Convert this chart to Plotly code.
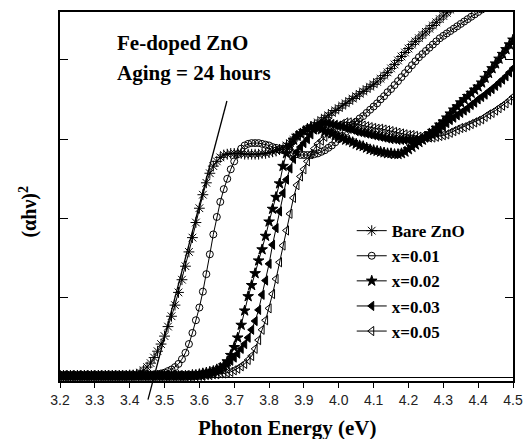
import plotly.graph_objects as go

# Photon energy grid (eV), 0.01 eV steps from 3.20 to 4.50
energy = [round(3.20 + 0.01 * i, 2) for i in range(131)]

names = ["Bare ZnO", "x=0.01", "x=0.02", "x=0.03", "x=0.05"]

bare_zno = [
    0.02, 0.02, 0.02, 0.02, 0.02, 0.02, 0.02, 0.02, 0.02, 0.02,
    0.02, 0.02, 0.02, 0.02, 0.02, 0.02, 0.02, 0.02, 0.02, 0.02,
    0.03, 0.03, 0.04, 0.06, 0.09, 0.13, 0.18, 0.25, 0.33, 0.42,
    0.52, 0.64, 0.77, 0.91, 1.07, 1.23, 1.40, 1.58, 1.76, 1.95,
    2.13, 2.30, 2.45, 2.57, 2.66, 2.72, 2.77, 2.80, 2.81, 2.82,
    2.82, 2.82, 2.82, 2.81, 2.81, 2.81, 2.81, 2.81, 2.82, 2.82,
    2.83, 2.84, 2.85, 2.87, 2.89, 2.92, 2.95, 2.99, 3.03, 3.06,
    3.09, 3.12, 3.15, 3.18, 3.21, 3.24, 3.27, 3.30, 3.33, 3.36,
    3.39, 3.42, 3.45, 3.48, 3.51, 3.54, 3.57, 3.60, 3.63, 3.66,
    3.69, 3.72, 3.76, 3.80, 3.84, 3.89, 3.94, 3.99, 4.04, 4.09,
    4.14, 4.19, 4.23, 4.27, 4.31, 4.35, 4.39, 4.43, 4.47, 4.51,
    4.55, 4.59, 4.63, 4.67,
]

x001 = [
    0.02, 0.02, 0.02, 0.02, 0.02, 0.02, 0.02, 0.02, 0.02, 0.02,
    0.02, 0.02, 0.02, 0.02, 0.02, 0.02, 0.02, 0.02, 0.02, 0.02,
    0.02, 0.02, 0.02, 0.02, 0.02, 0.02, 0.03, 0.03, 0.04, 0.05,
    0.06, 0.08, 0.10, 0.13, 0.17, 0.23, 0.31, 0.42, 0.56, 0.72,
    0.88, 1.08, 1.30, 1.55, 1.80, 2.02, 2.21, 2.37, 2.50, 2.62,
    2.72, 2.81, 2.88, 2.92, 2.94, 2.95, 2.95, 2.95, 2.94, 2.93,
    2.92, 2.90, 2.89, 2.87, 2.86, 2.84, 2.83, 2.82, 2.81, 2.80,
    2.80, 2.80, 2.80, 2.81, 2.82, 2.84, 2.86, 2.89, 2.92, 2.96,
    3.00, 3.04, 3.09, 3.14, 3.18, 3.22, 3.26, 3.29, 3.33, 3.37,
    3.41, 3.45, 3.50, 3.54, 3.59, 3.63, 3.68, 3.73, 3.78, 3.83,
    3.88, 3.93, 3.98, 4.03, 4.07, 4.11, 4.15, 4.19, 4.23, 4.27,
    4.30, 4.33, 4.36, 4.39, 4.42, 4.45, 4.48, 4.51, 4.54, 4.57,
    4.60, 4.63,
]

x002 = [
    0.02, 0.02, 0.02, 0.02, 0.02, 0.02, 0.02, 0.02, 0.02, 0.02,
    0.02, 0.02, 0.02, 0.02, 0.02, 0.02, 0.02, 0.02, 0.02, 0.02,
    0.02, 0.02, 0.02, 0.02, 0.02, 0.02, 0.02, 0.02, 0.02, 0.02,
    0.02, 0.02, 0.02, 0.02, 0.02, 0.02, 0.02, 0.02, 0.03, 0.03,
    0.04, 0.05, 0.06, 0.07, 0.08, 0.10, 0.12, 0.15, 0.20, 0.28,
    0.38, 0.50, 0.66, 0.84, 1.02, 1.16, 1.31, 1.47, 1.61, 1.78,
    1.96, 2.12, 2.27, 2.44, 2.66, 2.82, 2.92, 2.99, 3.04, 3.07,
    3.10, 3.13, 3.15, 3.15, 3.14, 3.12, 3.10, 3.09, 3.07, 3.05,
    3.03, 3.01, 2.99, 2.98, 2.96, 2.94, 2.92, 2.91, 2.89, 2.87,
    2.86, 2.85, 2.84, 2.83, 2.82, 2.82, 2.81, 2.81, 2.82, 2.84,
    2.87, 2.90, 2.93, 2.96, 2.99, 3.03, 3.07, 3.10, 3.14, 3.18,
    3.22, 3.27, 3.32, 3.37, 3.41, 3.46, 3.50, 3.54, 3.58, 3.62,
    3.66, 3.71, 3.77, 3.83, 3.89, 3.95, 4.01, 4.07, 4.13, 4.19,
    4.25,
]

x003 = [
    0.02, 0.02, 0.02, 0.02, 0.02, 0.02, 0.02, 0.02, 0.02, 0.02,
    0.02, 0.02, 0.02, 0.02, 0.02, 0.02, 0.02, 0.02, 0.02, 0.02,
    0.02, 0.02, 0.02, 0.02, 0.02, 0.02, 0.02, 0.02, 0.02, 0.02,
    0.02, 0.02, 0.02, 0.02, 0.02, 0.02, 0.02, 0.02, 0.02, 0.02,
    0.03, 0.03, 0.04, 0.05, 0.06, 0.08, 0.10, 0.13, 0.17, 0.21,
    0.25, 0.30, 0.36, 0.42, 0.50, 0.60, 0.71, 0.85, 1.04, 1.22,
    1.43, 1.67, 1.88, 2.09, 2.32, 2.49, 2.63, 2.75, 2.84, 2.90,
    2.95, 3.00, 3.06, 3.12, 3.17, 3.19, 3.20, 3.20, 3.19, 3.18,
    3.17, 3.16, 3.14, 3.13, 3.12, 3.10, 3.09, 3.08, 3.07, 3.06,
    3.05, 3.04, 3.03, 3.02, 3.01, 3.00, 3.00, 2.99, 2.99, 2.99,
    2.99, 2.99, 2.99, 2.99, 3.00, 3.02, 3.04, 3.06, 3.08, 3.12,
    3.16, 3.20, 3.24, 3.27, 3.30, 3.33, 3.36, 3.39, 3.43, 3.46,
    3.50, 3.53, 3.56, 3.60, 3.63, 3.67, 3.71, 3.75, 3.79, 3.84,
    3.89,
]

x005 = [
    0.02, 0.02, 0.02, 0.02, 0.02, 0.02, 0.02, 0.02, 0.02, 0.02,
    0.02, 0.02, 0.02, 0.02, 0.02, 0.02, 0.02, 0.02, 0.02, 0.02,
    0.02, 0.02, 0.02, 0.02, 0.02, 0.02, 0.02, 0.02, 0.02, 0.02,
    0.02, 0.02, 0.02, 0.02, 0.02, 0.02, 0.02, 0.02, 0.02, 0.02,
    0.02, 0.02, 0.03, 0.03, 0.04, 0.04, 0.05, 0.05, 0.06, 0.07,
    0.09, 0.11, 0.14, 0.17, 0.22, 0.27, 0.36, 0.47, 0.60, 0.72,
    0.87, 1.05, 1.24, 1.45, 1.66, 1.85, 2.06, 2.26, 2.42, 2.53,
    2.62, 2.72, 2.81, 2.88, 2.94, 2.98, 3.03, 3.07, 3.10, 3.13,
    3.16, 3.19, 3.21, 3.21, 3.20, 3.19, 3.18, 3.17, 3.16, 3.15,
    3.14, 3.13, 3.13, 3.12, 3.11, 3.10, 3.09, 3.08, 3.07, 3.06,
    3.05, 3.05, 3.04, 3.03, 3.03, 3.02, 3.02, 3.02, 3.03, 3.04,
    3.05, 3.06, 3.08, 3.10, 3.12, 3.14, 3.15, 3.17, 3.19, 3.21,
    3.23, 3.25, 3.28, 3.31, 3.33, 3.36, 3.39, 3.42, 3.45, 3.49,
    3.53,
]

# Tangent (Tauc extrapolation) line end points: energy, (alpha h nu)^2
tangent_e = [3.4525, 3.679]
tangent_v = [-0.28, 3.48]

x_ticks = [3.2, 3.3, 3.4, 3.5, 3.6, 3.7, 3.8, 3.9, 4.0, 4.1, 4.2, 4.3, 4.4, 4.5]
y_ticks = [1, 2, 3, 4]
x_range = [3.2, 4.5]
y_range = [-0.045, 4.6]

series = [bare_zno, x001, x002, x003, x005]
symbols = ["asterisk-open", "circle-open", "star", "triangle-left", "triangle-left-open"]
sizes = [9, 7, 8, 8, 8]

SERIF = "Liberation Serif"
SANS = "Liberation Sans"

fig = go.Figure()
for name, ys, sym, sz in zip(names, series, symbols, sizes):
    fig.add_trace(go.Scatter(
        x=energy[:len(ys)], y=ys, name=f"<b>{name}</b>", mode="lines+markers",
        line=dict(color="black", width=1),
        marker=dict(symbol=sym, size=sz, color="black",
                    line=dict(color="black", width=1)),
    ))

def px(e):
    return (e - x_range[0]) / (x_range[1] - x_range[0])

def py(v):
    return (v - y_range[0]) / (y_range[1] - y_range[0])

fig.add_shape(type="line", xref="paper", yref="paper",
              x0=px(tangent_e[0]), y0=py(tangent_v[0]),
              x1=px(tangent_e[1]), y1=py(tangent_v[1]),
              line=dict(color="black", width=1.3))

fig.add_annotation(text="<b>Fe-doped ZnO</b>", xref="paper", yref="paper",
                   x=0.121, y=0.916, xanchor="left", yanchor="middle",
                   showarrow=False, font=dict(family=SERIF, size=21, color="black"))
fig.add_annotation(text="<b>Aging = 24 hours</b>", xref="paper", yref="paper",
                   x=0.121, y=0.835, xanchor="left", yanchor="middle",
                   showarrow=False, font=dict(family=SERIF, size=21, color="black"))
fig.add_annotation(text="<b>(αhν)<sup>2</sup></b>", xref="paper", yref="paper",
                   x=-0.07, y=0.46, xanchor="center", yanchor="middle",
                   textangle=-90, showarrow=False,
                   font=dict(family=SERIF, size=20, color="black"))
fig.add_annotation(text="<b>Photon Energy (eV)</b>", xref="paper", yref="paper",
                   x=0.5, y=-0.127, xanchor="center", yanchor="middle",
                   showarrow=False, font=dict(family=SERIF, size=21, color="black"))

fig.update_layout(
    width=525, height=439,
    margin=dict(l=60, r=12, t=12, b=58),
    plot_bgcolor="white", paper_bgcolor="white",
    showlegend=True,
    legend=dict(x=0.644, y=0.455, xanchor="left", yanchor="top",
                bgcolor="rgba(0,0,0,0)",
                font=dict(family=SERIF, size=17, color="black"),
                tracegroupgap=0),
    xaxis=dict(range=x_range, tickvals=x_ticks,
               ticktext=[f"{t:.1f}" for t in x_ticks],
               ticks="outside", ticklen=5, tickwidth=1.3, tickcolor="black",
               showline=True, linecolor="black", linewidth=1.5, mirror=True,
               showgrid=False, zeroline=False, automargin=False,
               tickfont=dict(family=SANS, size=14, color="#222")),
    yaxis=dict(range=y_range, tickvals=y_ticks, showticklabels=False,
               ticks="inside", ticklen=8, tickwidth=1.3, tickcolor="black",
               showline=True, linecolor="black", linewidth=1.5, mirror="ticks",
               showgrid=False, automargin=False,
               zeroline=True, zerolinecolor="black", zerolinewidth=1),
)

fig.write_html("out.html")
